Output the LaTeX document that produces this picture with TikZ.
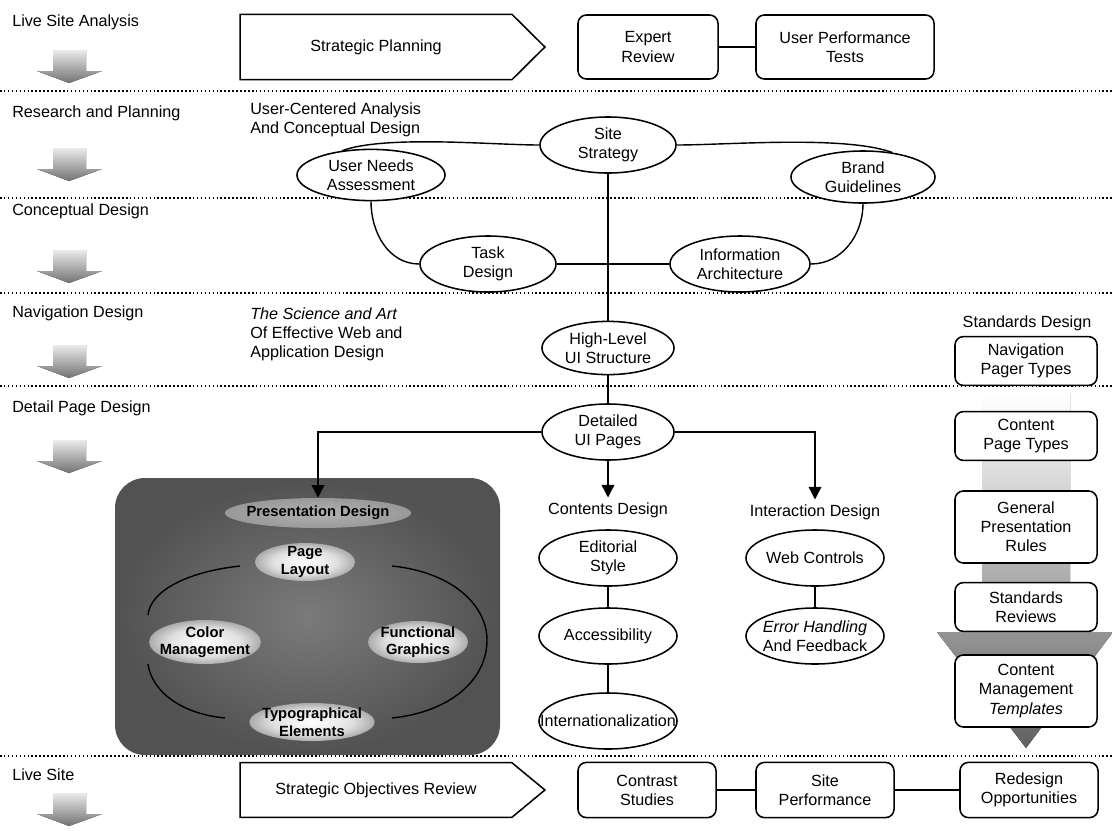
\documentclass[tikz,border=0pt]{standalone}
\usepackage{fontspec}
\setmainfont{Liberation Sans}
\usetikzlibrary{arrows.meta,shapes.geometric,calc}

\pgfdeclareradialshading{glow}{\pgfpoint{0bp}{0bp}}{color(0bp)=(white); color(16bp)=(white!88!black); color(36bp)=(black!58); color(50bp)=(black!58)}
\pgfdeclareradialshading{title_glow}{\pgfpoint{0bp}{0bp}}{color(0bp)=(black!30); color(30bp)=(black!42); color(50bp)=(black!55)}

\begin{document}
\begin{tikzpicture}[x=0.025cm, y=0.025cm]

	\tikzstyle{every node}=[font=\fontsize{11.5}{13.6}\selectfont]
	\tikzstyle{phase_label}=[anchor=west, inner sep=0pt]
	\tikzstyle{note_text}=[anchor=west, align=left, inner sep=0pt]
	\tikzstyle{design_node}=[ellipse, draw=black, line width=1.1pt, fill=white, minimum width=3.45cm, minimum height=1.4cm, inner xsep=-0.5cm, inner ysep=0pt, align=center]
	\tikzstyle{review_node}=[rectangle, rounded corners=6pt, draw=black, line width=1.1pt, fill=white, minimum width=3.5cm, minimum height=1.6cm, align=center]
	\tikzstyle{standards_node}=[review_node, minimum width=3.55cm, minimum height=1.22cm]
	\tikzstyle{glow_node}=[ellipse, shading=glow, align=center, inner sep=-4pt, font=\fontsize{10.5}{12.5}\selectfont\bfseries]
	\tikzstyle{link}=[line width=1pt]
	\tikzstyle{down_arrow}=[-{Triangle[width=9pt,length=9pt]}, line width=1pt]
	\tikzstyle{phase_arrow}=[top color=black!8, bottom color=black!55]
	\tikzstyle{dotted_rule}=[line width=1.1pt, dash pattern=on 1.1pt off 1.7pt]

	\useasboundingbox (0,0) rectangle (1112,-830);

	\foreach \y in {91,198,293,386,756}
		\draw[dotted_rule] (0,-\y) -- (1112,-\y);

	\foreach \y in {50,148,250,345,440,793}
		\fill[phase_arrow] (53,-\y) -- (86,-\y) -- (86,-\y-21) -- (102,-\y-21) -- (69,-\y-33) -- (37,-\y-21) -- (53,-\y-21) -- cycle;

	\node[phase_label] at (12,-22) (live_site_analysis) {Live Site Analysis};
	\node[phase_label] at (12,-113) (research_planning) {Research and Planning};
	\node[phase_label] at (12,-211) (conceptual_design) {Conceptual Design};
	\node[phase_label] at (12,-313) (navigation_design) {Navigation Design};
	\node[phase_label] at (12,-408) (detail_page_design) {Detail Page Design};
	\node[phase_label] at (12,-775) (live_site) {Live Site};

	% live site analysis
	\node[minimum width=6.78cm, minimum height=1.62cm] at (376,-47) (strategic_planning) {Strategic Planning};
	\draw[line width=1.1pt] (strategic_planning.north west) -- (strategic_planning.north east) -- ($(strategic_planning.east)+(33,0)$) -- (strategic_planning.south east) -- (strategic_planning.south west) -- cycle;
	\node[review_node] at (648,-47) (expert_review) {Expert\\Review};
	\node[review_node, minimum width=4.45cm] at (845,-47) (user_performance) {User Performance\\Tests};
	\draw[link] (expert_review) -- (user_performance);

	% research and conceptual design
	\node[note_text] at (250,-120) (user_centered) {User-Centered Analysis\\And Conceptual Design};
	\node[design_node, minimum width=3.4cm] at (608,-145) (site_strategy) {Site\\Strategy};
	\node[design_node, minimum width=3.7cm, minimum height=1.28cm] at (371,-175) (user_needs) {User Needs\\Assessment};
	\node[design_node, minimum width=3.6cm, minimum height=1.3cm] at (863,-177) (brand_guidelines) {Brand\\Guidelines};
	\node[design_node, minimum width=3.4cm] at (488,-264) (task_design) {Task\\Design};
	\node[design_node, minimum width=3.5cm] at (740,-264) (info_architecture) {Information\\Architecture};

	\draw[link] (site_strategy.west) to[out=180, in=20, looseness=0.6] (user_needs.140);
	\draw[link] (site_strategy.east) to[out=0, in=160, looseness=0.6] (brand_guidelines.40);
	\draw[link] (user_needs.south) to[out=-90, in=180] (task_design.west);
	\draw[link] (brand_guidelines.south) to[out=-90, in=0] (info_architecture.east);
	\draw[link] (task_design) -- (info_architecture);

	% navigation and detail pages
	\node[note_text] at (250,-334) (science_art) {\textit{The Science and Art}\\Of Effective Web and\\Application Design};
	\node[design_node, minimum width=3.3cm, minimum height=1.33cm] at (608,-348) (high_level_ui) {High-Level\\UI Structure};
	\node[design_node, minimum width=3.3cm] at (608,-432) (detailed_ui) {Detailed\\UI Pages};
	\draw[link] (site_strategy) -- (high_level_ui);
	\draw[link] (high_level_ui) -- (detailed_ui);

	% standards column
	\node at (1027,-323) (standards_design) {Standards Design};
	\node[standards_node] at (1026,-361) (navigation_pager) {Navigation\\Pager Types};
	\fill[top color=white, bottom color=black!62] (982,-394) -- (1070,-394) -- (1070,-632) -- (1113,-632) -- (1026,-748) -- (937,-632) -- (982,-632) -- cycle;
	\node[standards_node] at (1026,-436) (content_page_types) {Content\\Page Types};
	\node[standards_node, minimum height=1.8cm] at (1026,-527) (general_rules) {General\\Presentation\\Rules};
	\node[standards_node] at (1026,-607) (standards_reviews) {Standards\\Reviews};
	\node[standards_node, minimum height=1.8cm] at (1026,-691) (cm_templates) {Content\\Management\\\textit{Templates}};

	% presentation design
	\shade[inner color=black!52, outer color=black!68, rounded corners=0.75cm] (115,-478) rectangle (500,-755);
	\draw[line width=1pt] (240,-566) .. controls (185,-572) and (150,-592) .. (148,-615);
	\draw[line width=1pt] (148,-664) .. controls (152,-692) and (182,-714) .. (225,-718);
	\draw[line width=1pt] (392,-566) .. controls (452,-572) and (487,-605) .. (487,-640) .. controls (487,-680) and (450,-712) .. (392,-718);
	\node[glow_node, shading=title_glow, minimum width=3.9cm, minimum height=0.75cm] at (318,-513) (presentation_design) {Presentation Design};
	\node[glow_node, minimum width=2.5cm, minimum height=0.95cm] at (305,-562) (page_layout) {Page\\Layout};
	\node[glow_node, minimum width=2.7cm, minimum height=1.1cm] at (205,-642) (color_mgmt) {Color\\Management};
	\node[glow_node, minimum width=2.5cm, minimum height=1.05cm] at (418,-642) (functional_graphics) {Functional\\Graphics};
	\node[glow_node, minimum width=2.9cm, minimum height=0.95cm] at (312,-722) (typo_elements) {Typographical\\Elements};

	% contents and interaction
	\node at (608,-510) (contents_design) {Contents Design};
	\node at (815,-512) (interaction_design) {Interaction Design};
	\draw[down_arrow] (detailed_ui.west) -| (presentation_design.north);
	\draw[down_arrow] (detailed_ui) -- (contents_design);
	\draw[down_arrow] (detailed_ui.east) -| (interaction_design.north);

	\node[design_node] at (608,-558) (editorial_style) {Editorial\\Style};
	\node[design_node] at (608,-636) (accessibility) {Accessibility};
	\node[design_node] at (608,-721) (internationalization) {Internationalization};
	\node[design_node] at (815,-558) (web_controls) {Web Controls};
	\node[design_node] at (815,-636) (error_handling) {\textit{Error Handling}\\And Feedback};
	\draw[link] (editorial_style) -- (accessibility);
	\draw[link] (accessibility) -- (internationalization);
	\draw[link] (web_controls) -- (error_handling);

	% live site
	\node[minimum width=6.78cm, minimum height=1.35cm] at (376,-790) (objectives_review) {Strategic Objectives Review};
	\draw[line width=1.1pt] (objectives_review.north west) -- (objectives_review.north east) -- ($(objectives_review.east)+(33,0)$) -- (objectives_review.south east) -- (objectives_review.south west) -- cycle;
	\node[review_node, minimum width=3.45cm, minimum height=1.38cm] at (647,-790) (contrast_studies) {Contrast\\Studies};
	\node[review_node, minimum width=3.45cm, minimum height=1.38cm] at (825,-790) (site_performance) {Site\\Performance};
	\node[review_node, minimum width=3.45cm, minimum height=1.38cm] at (1029,-790) (redesign_opportunities) {Redesign\\Opportunities};
	\draw[link] (contrast_studies) -- (site_performance);
	\draw[link] (site_performance) -- (redesign_opportunities);

\end{tikzpicture}
\end{document}
